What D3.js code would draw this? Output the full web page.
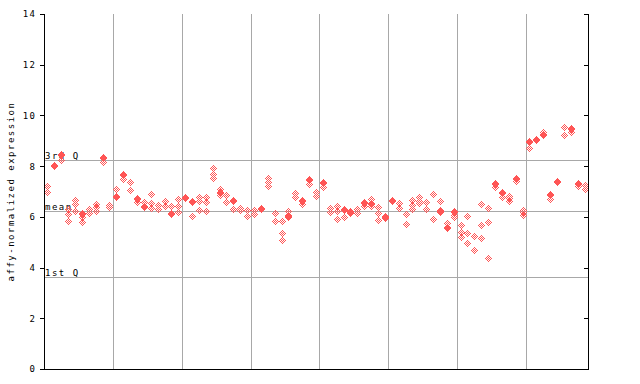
<!DOCTYPE html>
<html><head><meta charset="utf-8">
<script src="https://cdn.jsdelivr.net/npm/d3@7"></script>
<style>
html,body{margin:0;padding:0;background:#fff;}
svg{display:block;}
text{font-family:"DejaVu Sans Mono",monospace;font-size:9px;letter-spacing:1.5px;fill:#000;}
</style></head>
<body>
<svg id="chart" width="640" height="384"></svg>
<script>
// replicate values per sample (79 samples)
const sampleValues = [
 [7.2,7.0],[8.06,8.02],[8.46,8.42,8.24],[6.30,6.10,5.84],[6.66,6.5,6.23],
 [6.16,6.12,5.98,5.78],[6.31,6.14],[6.5,6.38,6.22],[8.37,8.33,8.15],[6.47,6.38],
 [7.08,6.81,6.77],[7.7,7.66,7.48],[7.36,7.05],[6.74,6.7,6.6],[6.58,6.42,6.38],
 [6.9,6.53,6.36],[6.47,6.31],[6.62,6.43],[6.43,6.14,6.1],[6.69,6.43,6.19],
 [6.8,6.74],[6.64,6.6,6.02],[6.8,6.61,6.26],[6.77,6.6,6.23],[7.91,7.68,7.52],
 [7.08,6.97,6.93,6.85],[6.85,6.58],[6.68,6.64,6.3],[6.33,6.29],[6.26,6.03],
 [6.27,6.11],[6.36,6.32],[7.52,7.36,7.22],[6.16,5.85],[5.84,5.35,5.07],
 [6.24,6.08,6.04,5.98],[6.93,6.8],[6.68,6.64,6.5],[7.5,7.46,7.28],[7.0,6.81],
 [7.38,7.34,7.19],[6.34,6.18],[6.42,6.23,5.9],[6.32,6.26,5.98],[6.25,6.21,6.14],
 [6.3,6.14],[6.58,6.54,6.43],[6.69,6.55,6.51,6.41],[6.38,6.14,5.86],[6.05,6.01,5.94],
 [6.68,6.64],[6.53,6.34],[6.1,5.7],[6.68,6.47,6.3],[6.8,6.64,6.53],
 [6.57,6.3],[6.89,5.91],[6.61,6.29,6.25,6.2],[5.75,5.59,5.55],[6.22,6.18,6.07,5.98],
 [5.66,5.4,5.2],[6.02,5.35,4.96],[5.23,4.68],[6.49,5.66,5.15],[6.34,5.78,4.36],
 [7.34,7.3,7.19],[6.97,6.93,6.8],[6.82,6.73,6.64],[7.52,7.48,7.41],[6.27,6.18,6.07],
 [8.98,8.94,8.7],[9.09,9.05],[9.33,9.28,9.23],[6.89,6.85,6.7],[7.43,7.39],
 [9.53,9.23],[9.52,9.48,9.35],[7.35,7.31,7.22],[7.24,7.09]
];
const yTicks = [0,2,4,6,8,10,12,14];
const refLines = [
  {label:"3rd Q", value:8.24},
  {label:"mean", value:6.23},
  {label:"1st Q", value:3.63}
];
const yLabel = "affy-normalized expression";
const groupSize = 10;

const svg = d3.select("#chart");
const L = 44, R = 588, T = 14, B = 369;
const x = d3.scaleBand().domain(d3.range(sampleValues.length)).range([L, R]).padding(0);
const y = d3.scaleLinear().domain([0, 14]).range([B, T]);
const px = v => Math.round(v) + 0.5;

// vertical group gridlines
const gridIdx = d3.range(groupSize, sampleValues.length, groupSize);
svg.append("g").selectAll("line").data(gridIdx).join("line")
  .attr("x1", d => px(x(d))).attr("x2", d => px(x(d)))
  .attr("y1", T).attr("y2", B)
  .attr("stroke", "#a8a8a8").attr("stroke-width", 1).attr("shape-rendering", "crispEdges");

// reference lines
const ref = svg.append("g");
ref.selectAll("line").data(refLines).join("line")
  .attr("x1", L).attr("x2", R)
  .attr("y1", d => px(y(d.value))).attr("y2", d => px(y(d.value)))
  .attr("stroke", "#a8a8a8").attr("stroke-width", 1).attr("shape-rendering", "crispEdges");

// points: pixel-checker diamonds
const pts = [];
sampleValues.forEach((vals, i) => vals.forEach(v => pts.push({i, v})));
const offs = [];
for (let dy = -3; dy <= 3; dy++) for (let dx = -3; dx <= 3; dx++) {
  if (Math.abs(dx) + Math.abs(dy) <= 3 && Math.abs(dx + dy) % 2 === 1) offs.push([dx, dy]);
}
const gp = svg.append("g").attr("fill", "#ff5555").attr("shape-rendering", "crispEdges");
pts.forEach(p => {
  const cx = Math.round(x(p.i) + x.bandwidth() / 2);
  const cy = Math.round(y(p.v));
  gp.append("g").attr("transform", `translate(${cx},${cy})`)
    .selectAll("rect").data(offs).join("rect")
    .attr("x", d => d[0]).attr("y", d => d[1]).attr("width", 1).attr("height", 1);
});

// reference labels
ref.selectAll("text").data(refLines).join("text")
  .attr("x", L + 1).attr("y", d => Math.round(y(d.value)) - 1)
  .text(d => d.label);

// axes frame
const frame = svg.append("g").attr("stroke", "#000").attr("shape-rendering", "crispEdges");
frame.append("line").attr("x1", px(L)).attr("x2", px(L)).attr("y1", T).attr("y2", B + 1);
frame.append("line").attr("x1", px(R)).attr("x2", px(R)).attr("y1", T).attr("y2", B + 1);
frame.append("line").attr("x1", L).attr("x2", R + 1).attr("y1", px(B)).attr("y2", px(B));

// left axis ticks & labels
const gl = svg.append("g").attr("transform", `translate(${px(L)},0)`)
  .call(d3.axisLeft(y).tickValues(yTicks).tickSize(5).tickPadding(3).tickFormat(d3.format("d")));
gl.select(".domain").remove();
gl.selectAll(".tick line").attr("stroke", "#000").attr("shape-rendering", "crispEdges");
gl.selectAll(".tick text").attr("fill", "#000");
gl.attr("font-family", null).attr("font-size", null);

// right axis inward ticks
const gr = svg.append("g").attr("transform", `translate(${px(R)},0)`)
  .call(d3.axisRight(y).tickValues(yTicks).tickSize(-5).tickFormat(""));
gr.select(".domain").remove();
gr.selectAll(".tick line").attr("stroke", "#000").attr("shape-rendering", "crispEdges");

// y axis label
svg.append("text")
  .attr("transform", `translate(14,${(T + B) / 2}) rotate(-90)`)
  .attr("text-anchor", "middle")
  .text(yLabel);
</script>
</body></html>
